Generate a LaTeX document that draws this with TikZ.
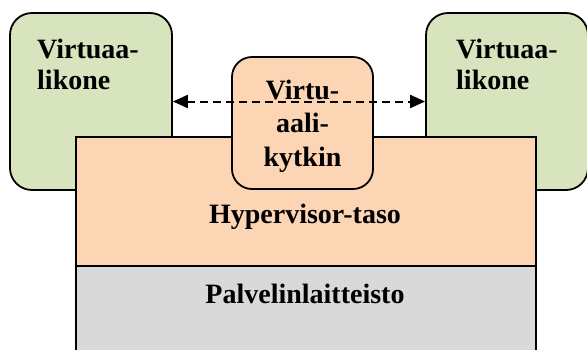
\documentclass[tikz,border=0pt]{standalone}
\usepackage{fontspec}
\setmainfont{Liberation Serif}
\usetikzlibrary{arrows.meta}
\definecolor{vmgreen}{HTML}{D7E4BD}
\definecolor{hvorange}{HTML}{FCD5B5}
\definecolor{hwgray}{HTML}{D9D9D9}
\begin{document}
\begin{tikzpicture}[x=1pt,y=-1pt,
  outline/.style={draw=black,line width=1.8pt},
  vmbox/.style={outline,fill=vmgreen,rounded corners=22pt,minimum width=162pt,minimum height=177pt,inner sep=0pt},
  lbl/.style={font=\bfseries\fontsize{28}{31}\selectfont,inner sep=0pt},
  link/.style={line width=2pt,dash pattern=on 8pt off 5pt,{Triangle[length=15pt,width=13pt]}-{Triangle[length=15pt,width=13pt]}},
]
\useasboundingbox (0,0) rectangle (587,349);
\begin{scope}
\clip (0,0) rectangle (587,349);
% virtual machines
\node[vmbox] (vmL) at (91,101.5) {};
\node[vmbox] (vmR) at (507,101.5) {};
% hypervisor layer
\node[outline,fill=hvorange,minimum width=460pt,minimum height=129pt,inner sep=0pt,anchor=north west] (hv) at (75,136) {};
% hardware layer (runs past the lower edge)
\node[outline,fill=hwgray,minimum width=460pt,minimum height=100pt,inner sep=0pt,anchor=north west] (hw) at (75,265) {};
% virtual switch
\node[outline,fill=hvorange,rounded corners=20pt,minimum width=141pt,minimum height=132pt,inner sep=0pt] (sw) at (302.5,123) {};
\end{scope}
% labels (base anchor sits on the last line)
\node[lbl,align=left,anchor=base west] (tL) at (37,89) {Virtuaa-\\likone};
\node[lbl,align=left,anchor=base west] (tR) at (456,89) {Virtuaa-\\likone};
\node[lbl,align=center,anchor=base,font=\bfseries\fontsize{28}{33.5}\selectfont] (tS) at (302.5,166) {Virtu-\\aali-\\kytkin};
\node[lbl,anchor=base] (tH) at (305,223) {Hypervisor-taso};
\node[lbl,anchor=base] (tW) at (305,303) {Palvelinlaitteisto};
% link between the machines
\draw[link] (vmL.east) -- (vmR.west);
\end{tikzpicture}
\end{document}
